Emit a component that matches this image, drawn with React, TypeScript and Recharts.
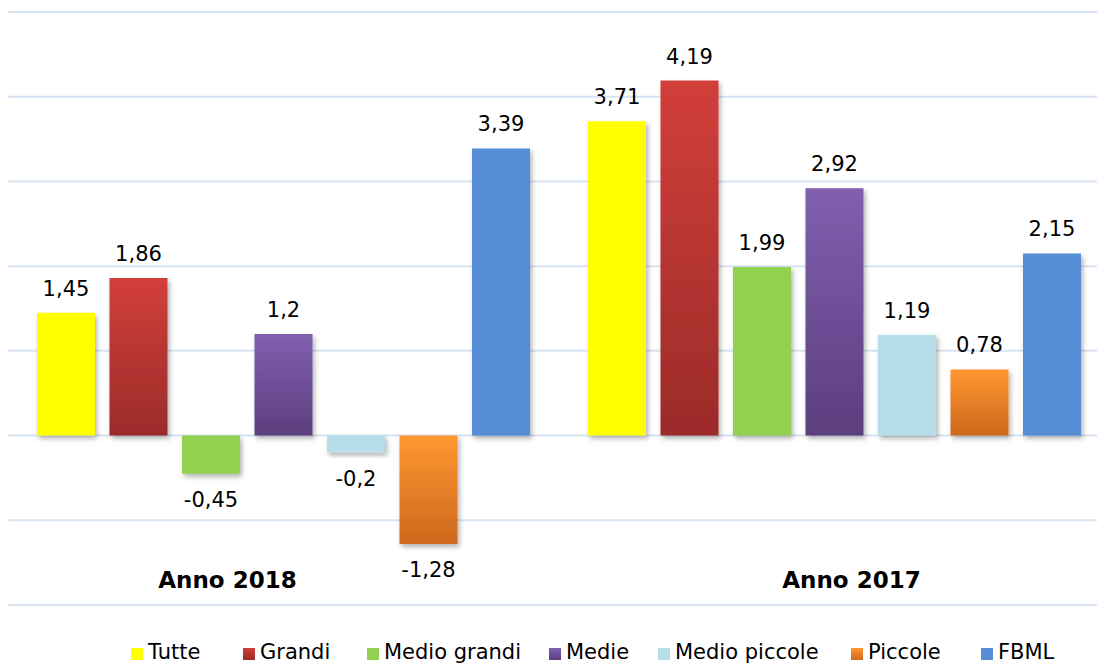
import React from "react";
import { BarChart, Bar, XAxis, YAxis, CartesianGrid, Legend, LabelList } from "recharts";

const categories = ["Anno 2018", "Anno 2017"];
const tutte = [1.45, 3.71];
const grandi = [1.86, 4.19];
const medioGrandi = [-0.45, 1.99];
const medie = [1.2, 2.92];
const medioPiccole = [-0.2, 1.19];
const piccole = [-1.28, 0.78];
const fbml = [3.39, 2.15];
const yTicks = [-2, -1, 0, 1, 2, 3, 4, 5];

const seriesDefs = [
  { key: "Tutte", values: tutte, fill: "#FFFF00", grad: null as null | string[] },
  { key: "Grandi", values: grandi, fill: "url(#gRed)", grad: ["#D23F3B", "#9B2B29"] },
  { key: "Medio grandi", values: medioGrandi, fill: "#92D050", grad: null },
  { key: "Medie", values: medie, fill: "url(#gPurple)", grad: ["#8060AF", "#5C3E7E"] },
  { key: "Medio piccole", values: medioPiccole, fill: "#B7DEE8", grad: null },
  { key: "Piccole", values: piccole, fill: "url(#gOrange)", grad: ["#FF9730", "#CD681D"] },
  { key: "FBML", values: fbml, fill: "#558ED5", grad: null },
];

const data = categories.map((c, i) => {
  const row: any = { name: c };
  seriesDefs.forEach((s) => (row[s.key] = s.values[i]));
  return row;
});

const catDx = [-56, 17];
const legendItemWidths = [112, 124, 182, 109, 193, 130, 90];
const FONT = "'DejaVu Sans', sans-serif";

const fmt = (v: number) => String(v).replace(".", ",");

const ValueLabel = (props: any) => {
  const { x, y, width, height, value } = props;
  const top = Math.min(y, y + height);
  const bottom = Math.max(y, y + height);
  const cx = x + width / 2;
  const ty = value >= 0 ? top - 17 : bottom + 33;
  return (
    <text x={cx} y={ty} textAnchor="middle" fontFamily={FONT} fontSize={21} fill="#000">
      {fmt(value)}
    </text>
  );
};

const CatTick = (props: any) => {
  const { x, y, payload, index } = props;
  return (
    <text
      x={x + (catDx[index] || 0)}
      y={y - 17}
      textAnchor="middle"
      fontFamily={FONT}
      fontWeight="bold"
      fontSize={23}
      fill="#000"
    >
      {payload.value}
    </text>
  );
};

const LegendContent = () => (
  <div style={{ display: "flex", flexDirection: "row", paddingLeft: 123, fontFamily: FONT, fontSize: 21, color: "#000" }}>
    {seriesDefs.map((s, i) => {
      const id = "lg" + s.key.replace(/\s/g, "");
      return (
        <div key={s.key} style={{ display: "flex", alignItems: "center", width: legendItemWidths[i], flex: "none", whiteSpace: "nowrap" }}>
          <svg width={12} height={12} style={{ marginRight: 5, marginTop: 3, flex: "none" }}>
            {s.grad && (
              <defs>
                <linearGradient id={id} x1="0" y1="0" x2="0" y2="1">
                  <stop offset="0" stopColor={s.grad[0]} />
                  <stop offset="1" stopColor={s.grad[1]} />
                </linearGradient>
              </defs>
            )}
            <rect width={12} height={12} fill={s.grad ? `url(#${id})` : s.fill} />
          </svg>
          <span>{s.key}</span>
        </div>
      );
    })}
  </div>
);

export default function App() {
  return (
    <div style={{ position: "fixed", top: 8, left: 8, width: 1089, height: 656, overflow: "hidden", background: "#fff" }}>
      <BarChart
        width={1102}
        height={680}
        data={data}
        margin={{ top: 4, right: 0, left: 0, bottom: 53 }}
        barCategoryGap={29}
        barGap={14.5}
      >
        <defs>
          <linearGradient id="gRed" x1="0" y1="0" x2="0" y2="1">
            <stop offset="0" stopColor="#D23F3B" />
            <stop offset="1" stopColor="#9B2B29" />
          </linearGradient>
          <linearGradient id="gPurple" x1="0" y1="0" x2="0" y2="1">
            <stop offset="0" stopColor="#8060AF" />
            <stop offset="1" stopColor="#5C3E7E" />
          </linearGradient>
          <linearGradient id="gOrange" x1="0" y1="0" x2="0" y2="1">
            <stop offset="0" stopColor="#FF9730" />
            <stop offset="1" stopColor="#CD681D" />
          </linearGradient>
          <filter id="shadow" x="-20%" y="-20%" width="150%" height="150%">
            <feDropShadow dx="2" dy="3" stdDeviation="2.5" floodColor="#000" floodOpacity="0.3" />
          </filter>
        </defs>
        <CartesianGrid vertical={false} stroke="#D7E3F3" strokeWidth={2} />
        <XAxis
          dataKey="name"
          height={30}
          axisLine={false}
          tickLine={false}
          tickSize={0}
          tickMargin={0}
          tick={<CatTick />}
          interval={0}
        />
        <YAxis hide domain={[-2, 5]} ticks={yTicks} />
        <Legend
          layout="horizontal"
          verticalAlign="middle"
          align="center"
          content={<LegendContent />}
          wrapperStyle={{ top: 632, left: 0, width: 1102, height: 30 }}
        />
        {seriesDefs.map((s) => (
          <Bar key={s.key} dataKey={s.key} fill={s.fill} filter="url(#shadow)" isAnimationActive={false}>
            <LabelList dataKey={s.key} content={<ValueLabel />} />
          </Bar>
        ))}
      </BarChart>
    </div>
  );
}
